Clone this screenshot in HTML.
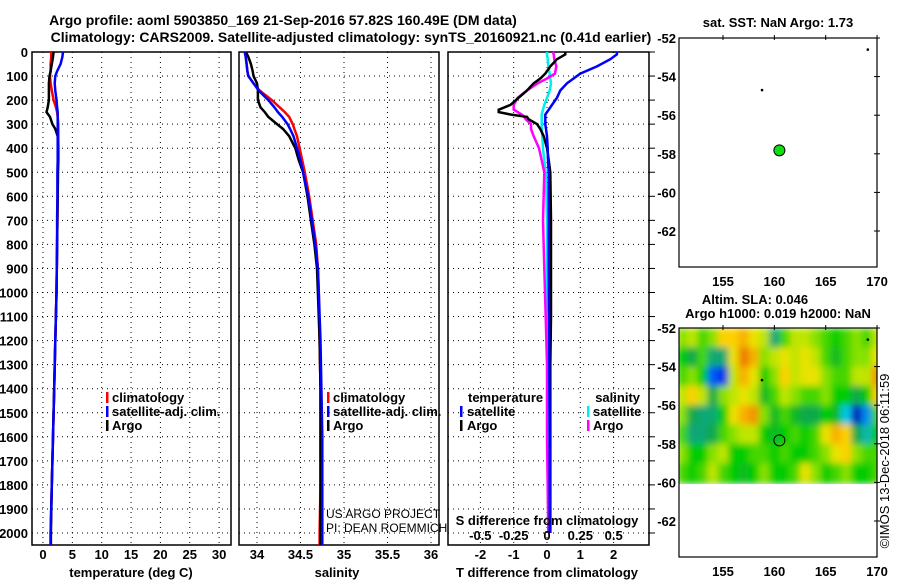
<!DOCTYPE html>
<html><head><meta charset="utf-8"><style>
body{margin:0;background:#fff;}
svg text{font-family:"Liberation Sans",sans-serif;}
</style></head><body>
<svg id="c" width="900" height="580" xmlns="http://www.w3.org/2000/svg">
<defs><filter id="blur" x="0" y="0" width="1" height="1"><feGaussianBlur stdDeviation="3.5"/></filter>
<clipPath id="mapclip"><rect x="679" y="328" width="198" height="156"/></clipPath></defs>
<text x="283" y="25" text-anchor="middle" font-size="14" font-weight="bold">Argo profile: aoml 5903850_169 21-Sep-2016 57.82S 160.49E (DM data)</text>
<text x="351" y="42" text-anchor="middle" font-size="14" font-weight="bold">Climatology: CARS2009. Satellite-adjusted climatology: synTS_20160921.nc (0.41d earlier)</text>
</svg>
<script>
// ---- data ----
const depth = [0,20,50,80,100,130,160,200,230,250,270,300,320,350,400,450,500,600,700,800,900,1000,1200,1400,1600,1800,2000,2050];
const tempClim = [1.4,1.4,1.3,1.3,1.2,1.3,1.5,1.8,2.2,2.4,2.5,2.6,2.6,2.6,2.6,2.55,2.5,2.5,2.45,2.4,2.35,2.3,2.1,1.9,1.7,1.5,1.3,1.3];
const tempSat = [3.4,3.3,3.0,2.4,2.1,2.0,2.1,2.3,2.4,2.5,2.5,2.5,2.5,2.5,2.5,2.5,2.45,2.45,2.4,2.4,2.35,2.3,2.1,1.9,1.7,1.5,1.3,1.3];
const tempArgo = [1.8,1.7,1.5,1.3,1.1,1.0,1.0,1.0,0.8,0.6,1.2,1.6,2.1,2.5,2.6,2.6,2.55,2.5,2.45,2.4,2.35,2.3,2.1,1.9,1.7,1.5,1.35,1.35];
const salClim = [33.86,33.87,33.88,33.89,33.9,33.96,34.03,34.17,34.26,34.32,34.37,34.41,34.43,34.46,34.49,34.52,34.55,34.6,34.64,34.68,34.7,34.71,34.72,34.73,34.73,34.73,34.72,34.72];
const salSat = [33.86,33.87,33.88,33.89,33.9,33.96,34.02,34.13,34.2,34.24,34.29,34.35,34.38,34.42,34.46,34.5,34.53,34.59,34.63,34.67,34.7,34.71,34.73,34.74,34.75,34.75,34.75,34.75];
const salArgo = [33.87,33.9,33.93,33.95,33.96,34.0,34.01,34.01,34.04,34.09,34.13,34.23,34.3,34.37,34.44,34.48,34.53,34.58,34.62,34.66,34.69,34.7,34.72,34.73,34.73,34.73,34.73,34.73];
const diffDepth = [0,10,30,60,90,110,130,160,190,220,240,250,260,270,280,300,320,350,400,450,500,700,900,1100,1300,1600,2000];
const dTArgo = [0.55,0.55,0.3,0.1,-0.05,-0.2,-0.4,-0.6,-0.85,-1.1,-1.45,-1.45,-1.1,-0.6,-0.55,-0.3,-0.2,-0.1,0.0,0.05,0.1,0.12,0.12,0.12,0.1,0.1,0.1];
const dTSat = [2.1,2.1,1.9,1.5,1.0,0.8,0.6,0.4,0.3,0.15,0.05,0.0,-0.05,-0.05,-0.05,-0.05,-0.03,0,0.02,0.03,0.05,0.05,0.05,0.06,0.07,0.08,0.08];
const dSArgo = [0.045,0.05,0.055,0.07,0.06,0.0,-0.07,-0.15,-0.22,-0.25,-0.25,-0.22,-0.19,-0.17,-0.16,-0.12,-0.12,-0.1,-0.06,-0.04,-0.02,-0.03,-0.02,-0.01,0,0,0.01];
const dSSat = [0,0,0.005,0.01,0.02,0.025,0.03,0.02,0.0,-0.02,-0.03,-0.035,-0.04,-0.04,-0.04,-0.04,-0.04,-0.035,-0.03,-0.02,-0.01,0,0,0,0.01,0.01,0.01];
const depthTicks = [0,100,200,300,400,500,600,700,800,900,1000,1100,1200,1300,1400,1500,1600,1700,1800,1900,2000];
const tempTicks = [0,5,10,15,20,25,30];
const salTicks = [34,34.5,35,35.5,36];
const dTTicks = [-2,-1,0,1,2];
const dSTicks = [-0.5,-0.25,0,0.25,0.5];
const latTicks = [-52,-54,-56,-58,-60,-62];
const lonTicks = [155,160,165,170];
const sslaLons = [151,152,153,154,155,156,157,158,159,160,161,162,163,164,165,166,167,168,169,170];
const sslaLats = [-52.5,-53.5,-54.5,-55.5,-56.5,-57.5,-58.5,-59.5];
const ssla = [
[0.2,0.3,0.1,0.2,0.5,0.5,0.6,0.4,0.3,-0.3,0.1,0.3,0.3,0.2,0.1,0,0.1,0.2,0.1,0.3],
[0,-0.2,0.1,-0.3,-0.3,0.4,0.8,0.6,0.2,0.3,0.4,0.3,0.4,0.3,0.1,-0.1,0.1,0.2,0.2,0.4],
[0.1,0.2,0,-0.7,-0.8,0.3,0.6,0.4,0,0.2,0.5,0.3,0.4,0.4,0.2,0.1,0.1,0.3,0.3,0.7],
[0.3,0.5,0.3,-0.2,0.2,0.3,0.4,0.3,-0.1,0.1,0.3,0.2,0.1,0.1,0.2,0,0,-0.2,0,0.5],
[0.2,-0.2,-0.3,-0.3,0,0.4,0.6,0.7,0.2,-0.1,0.1,-0.1,-0.2,-0.2,0,-0.1,-0.5,-0.9,-0.6,0.1],
[0.1,-0.3,-0.3,-0.2,0.1,0.2,0.3,0.3,0,-0.1,0,0.1,0,0.1,0.4,0.6,0.5,-0.2,-0.4,0],
[0.2,0,0,0.2,0.3,0,0,0.1,0.1,0,0.1,0,0,0.1,0.2,0.4,0.5,0.2,0.1,0.1],
[0.1,0,0.1,0.3,0.1,0,-0.1,0,0.2,0,0,0.1,0.4,0.2,0,0.1,0.2,0,0,0.1]];
const argoLon = 160.49, argoLat = -57.82;
const dotLons = [169.1,158.8], dotLats = [-52.6,-54.7];

// ---- helpers ----
const svg = document.getElementById('c');
const NS = 'http://www.w3.org/2000/svg';
function mk(tag, attrs, parent){const e=document.createElementNS(NS,tag);for(const k in attrs)e.setAttribute(k,attrs[k]);(parent||svg).appendChild(e);return e;}
function txt(x,y,s,anchor,size,bold,parent){const t=mk('text',{x:x,y:y,'text-anchor':anchor||'middle','font-size':size||13,'font-weight':bold===false?'normal':'bold'},parent);t.textContent=s;return t;}
const yD = d => 52 + d*0.2405;
const xT = t => 43 + t*5.87;
const xS = s => 257 + (s-34)*87;
const xDT = v => 547 + v*33.3;
const xDS = v => 547 + v*133.3;
const xLon = l => 723 + (l-155)*10.27;
const yLat1 = a => 38 + (-52 - a)*19.3;
const yLat2 = a => 328 + (-52 - a)*19.3;

function panel(x0,x1,name,xs){
  const g=mk('g',{});
  
  
  depthTicks.forEach(d=>{mk('line',{x1:x0,x2:x1,y1:yD(d),y2:yD(d),stroke:'#000','stroke-dasharray':'1 4'},g);});
  xs.forEach(x=>{mk('line',{x1:x,x2:x,y1:52,y2:545,stroke:'#000','stroke-dasharray':'1 4'},g);});
  mk('rect',{x:x0,y:52,width:x1-x0,height:493,fill:'none',stroke:'#000','stroke-width':1.5},g);
  return g;
}
function line(xf,vals,ds,color,name,w){
  const pts=vals.map((v,i)=>xf(v).toFixed(1)+','+yD(ds[i]).toFixed(1)).join(' ');
  const p=mk('polyline',{points:pts,fill:'none',stroke:color,'stroke-width':w||2.5});
  
  
}

panel(32,231,'temperature-panel',tempTicks.map(xT));
depthTicks.forEach(d=>{const t=txt(28,yD(d)+5,String(d),'end');});
tempTicks.forEach(v=>{const t=txt(xT(v),559,String(v));});
line(xT,tempClim,depth,'#f00','temp-climatology-line');
line(xT,tempArgo,depth,'#000','temp-argo-line');
line(xT,tempSat,depth,'#00f','temp-satellite-line');
let tt=txt(131,577,'temperature (deg C)');

panel(239,439,'salinity-panel',salTicks.map(xS));
salTicks.forEach(v=>{const t=txt(xS(v),559,String(v));});
line(xS,salClim,depth,'#f00','sal-climatology-line');
line(xS,salArgo,depth,'#000','sal-argo-line');
line(xS,salSat,depth,'#00f','sal-satellite-line');
tt=txt(337,577,'salinity');
tt=txt(326,518,'US ARGO PROJECT','start',12,false);
tt=txt(326,532,'PI: DEAN ROEMMICH','start',12,false);

[[107,'temperature'],[328,'salinity']].forEach(([lx,nm])=>{
  [['climatology','#f00'],['satellite-adj. clim.','#00f'],['Argo','#000']].forEach(([lab,c],i)=>{
    const y=402+i*14;
    mk('rect',{x:lx-1,y:y-10,width:2.5,height:11,fill:c});
    const t=txt(lx+5,y,lab,'start',13);
    
    
  });
});

panel(448,649,'difference-panel',dTTicks.map(xDT));
depthTicks.forEach(d=>{mk('line',{x1:649,x2:655,y1:yD(d),y2:yD(d),stroke:'#000'});});
line(xDS,dSSat,diffDepth,'#0ee','sal-diff-satellite-line');
line(xDS,dSArgo,diffDepth,'#f0f','sal-diff-argo-line');
line(xDT,dTArgo,diffDepth,'#000','temp-diff-argo-line');
line(xDT,dTSat,diffDepth,'#00f','temp-diff-satellite-line');
dTTicks.forEach(v=>{const t=txt(xDT(v),559,String(v));});
dSTicks.forEach(v=>{const t=txt(xDS(v),540,String(v));});
tt=txt(547,525,'S difference from climatology');
tt=txt(547,577,'T difference from climatology');
tt=txt(468,402,'temperature','start');
tt=txt(640,402,'salinity','end');
[['satellite','#00f','#0ee'],['Argo','#000','#f0f']].forEach(([lab,c1,c2],i)=>{
  const y=416+i*14;
  mk('rect',{x:460,y:y-10,width:2.5,height:11,fill:c1});
  let t=txt(467,y,lab,'start');
  
  
  mk('rect',{x:587,y:y-10,width:2.5,height:11,fill:c2});
  t=txt(593,y,lab,'start');
  
  
});

function mapFrame(y0,yl,name){
  const g=mk('g',{});
  
  
  mk('rect',{x:679,y:y0,width:198,height:229,fill:'none',stroke:'#000','stroke-width':1.2},g);
  latTicks.forEach(a=>{const y=yl(a);mk('line',{x1:874,x2:880,y1:y,y2:y,stroke:'#000'},g);const t=txt(676,y+5,String(a),'end',13,true,g);});
  lonTicks.forEach(l=>{const x=xLon(l);mk('line',{x1:x,x2:x,y1:y0-3,y2:y0+2,stroke:'#000'},g);const t=txt(x,y0+248,String(l),'middle',13,true,g);});
  return g;
}
function col(v){
  const stops=[[-1,[0,0,140]],[-0.75,[0,60,255]],[-0.5,[0,200,230]],[-0.25,[20,160,90]],[0,[0,204,0]],[0.25,[170,230,0]],[0.45,[255,225,0]],[0.65,[245,160,0]],[0.9,[230,100,0]]];
  v=Math.max(-1,Math.min(0.9,v));
  for(let i=0;i<stops.length-1;i++){const a=stops[i],b=stops[i+1];if(v<=b[0]){const f=(v-a[0])/(b[0]-a[0]);return 'rgb('+a[1].map((c,k)=>Math.round(c+(b[1][k]-c)*f)).join(',')+')';}}
  return 'rgb(230,100,0)';
}
mapFrame(38,yLat1,'sst-map');
txt(778,27,'sat. SST: NaN Argo: 1.73','middle',13);
dotLons.forEach((l,i)=>{const d=mk('circle',{cx:xLon(l),cy:yLat1(dotLats[i]),r:1.3,fill:'#000'});});
let m=mk('circle',{cx:xLon(argoLon),cy:yLat1(argoLat),r:5.5,fill:'#11dd11',stroke:'#000','stroke-width':1});



const hg=mk('g',{'clip-path':'url(#mapclip)'});
const hb=mk('g',{filter:'url(#blur)'},hg);
mk('rect',{x:679,y:328,width:198,height:156,fill:'#1c1'},hb);
sslaLats.forEach((a,r)=>{sslaLons.forEach((l,c)=>{
  const cell=mk('rect',{x:xLon(l-0.5),y:yLat2(a+0.5),width:10.6,height:19.6,fill:col(ssla[r][c])},hb);
  
  
});});
mapFrame(328,yLat2,'sla-map');
txt(755,304,'Altim. SLA: 0.046','middle',13);
txt(778,318,'Argo h1000: 0.019 h2000: NaN','middle',13);
dotLons.forEach((l,i)=>{const d=mk('circle',{cx:xLon(l),cy:yLat2(dotLats[i]),r:1.3,fill:'#000'});});
m=mk('circle',{cx:xLon(argoLon),cy:yLat2(argoLat),r:5.5,fill:'none',stroke:'#000','stroke-width':1});


const cr=txt(0,0,'©IMOS 13-Dec-2018 06:11:59','middle',13,false);
cr.setAttribute('transform','translate(889,461) rotate(-90)');


</script>
</body></html>
